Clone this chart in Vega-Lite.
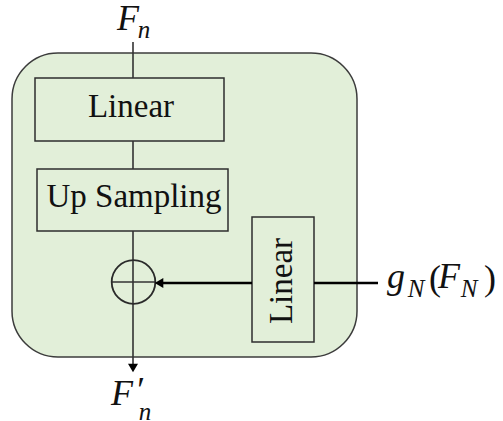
{
  "$schema": "https://vega.github.io/schema/vega-lite/v6.json",
  "width": 503,
  "height": 421,
  "padding": 0,
  "autosize": {"type": "none"},
  "background": "white",
  "config": {"view": {"stroke": null}},
  "datasets": {
    "frame": [{"part": "block", "x": 12, "x2": 357, "y": 53, "y2": 357}],
    "boxes": [
      {"name": "Linear", "x": 35, "x2": 224, "y": 78, "y2": 141},
      {"name": "Up Sampling", "x": 37, "x2": 228, "y": 169, "y2": 231},
      {"name": "Linear side", "x": 252, "x2": 314, "y": 217, "y2": 342}
    ],
    "links": [
      {"kind": "thin", "x": 133, "y": 42, "x2": 133, "y2": 78},
      {"kind": "thin", "x": 133, "y": 141, "x2": 133, "y2": 169},
      {"kind": "thin", "x": 133, "y": 231, "x2": 133, "y2": 366},
      {"kind": "thin", "x": 111.5, "y": 282, "x2": 155.5, "y2": 282},
      {"kind": "thick", "x": 160, "y": 283, "x2": 252, "y2": 283},
      {"kind": "thick", "x": 314, "y": 283, "x2": 378, "y2": 283}
    ],
    "heads": [
      {"shape": "triangle-down", "x": 133, "y": 368},
      {"shape": "triangle-left", "x": 159, "y": 283}
    ],
    "sum": [{"x": 133.5, "y": 282}],
    "labels": [
      {"text": "Linear", "x": 131, "y": 117, "dir": "h"},
      {"text": "Up Sampling", "x": 134, "y": 207, "dir": "h"},
      {"text": "Linear", "x": 292, "y": 281, "dir": "v"}
    ],
    "math": [
      {"t": "F", "x": 128, "y": 30, "level": "base"},
      {"t": "n", "x": 144, "y": 38, "level": "sub"},
      {"t": "F", "x": 122, "y": 405, "level": "base"},
      {"t": "′", "x": 139, "y": 402, "level": "base"},
      {"t": "n", "x": 145, "y": 420, "level": "sub"},
      {"t": "g", "x": 396, "y": 288, "level": "base"},
      {"t": "N", "x": 416, "y": 297, "level": "sub"},
      {"t": "(", "x": 435, "y": 290, "level": "paren"},
      {"t": "F", "x": 449, "y": 288, "level": "base"},
      {"t": "N", "x": 469, "y": 297, "level": "sub"},
      {"t": ")", "x": 490, "y": 290, "level": "paren"}
    ]
  },
  "encoding": {
    "x": {"field": "x", "type": "quantitative", "axis": null, "scale": {"domain": [0, 503], "nice": false, "zero": false}},
    "y": {"field": "y", "type": "quantitative", "axis": null, "scale": {"domain": [0, 421], "nice": false, "zero": false, "reverse": true}}
  },
  "layer": [
    {
      "data": {"name": "frame"},
      "mark": {"type": "rect", "cornerRadius": 46, "fill": "#e2efd9", "stroke": "#3c3c3c", "strokeWidth": 1.5},
      "encoding": {"x2": {"field": "x2"}, "y2": {"field": "y2"}}
    },
    {
      "data": {"name": "boxes"},
      "mark": {"type": "rect", "fill": "#e2efd9", "stroke": "#2e2e2e", "strokeWidth": 1.5},
      "encoding": {"x2": {"field": "x2"}, "y2": {"field": "y2"}}
    },
    {
      "data": {"name": "links"},
      "transform": [{"filter": "datum.kind === 'thin'"}],
      "mark": {"type": "rule", "color": "#333333", "strokeWidth": 1.6},
      "encoding": {"x2": {"field": "x2"}, "y2": {"field": "y2"}}
    },
    {
      "data": {"name": "links"},
      "transform": [{"filter": "datum.kind === 'thick'"}],
      "mark": {"type": "rule", "color": "#000000", "strokeWidth": 2.6},
      "encoding": {"x2": {"field": "x2"}, "y2": {"field": "y2"}}
    },
    {
      "data": {"name": "sum"},
      "mark": {"type": "point", "shape": "circle", "size": 1900, "filled": false, "stroke": "#2a2a2a", "strokeWidth": 1.8, "opacity": 1}
    },
    {
      "data": {"name": "heads"},
      "mark": {"type": "point", "filled": true, "size": 100, "color": "#000000", "opacity": 1},
      "encoding": {"shape": {"field": "shape", "type": "nominal", "scale": null, "legend": null}}
    },
    {
      "data": {"name": "labels"},
      "transform": [{"filter": "datum.dir === 'h'"}],
      "mark": {"type": "text", "font": "Liberation Serif", "fontSize": 33, "align": "center", "baseline": "alphabetic", "color": "#111111"},
      "encoding": {"text": {"field": "text"}}
    },
    {
      "data": {"name": "labels"},
      "transform": [{"filter": "datum.dir === 'v'"}],
      "mark": {"type": "text", "font": "Liberation Serif", "fontSize": 33, "angle": 270, "align": "center", "baseline": "alphabetic", "color": "#111111"},
      "encoding": {"text": {"field": "text"}}
    },
    {
      "data": {"name": "math"},
      "transform": [{"filter": "datum.level === 'base'"}],
      "mark": {"type": "text", "font": "Liberation Serif", "fontStyle": "italic", "fontSize": 36, "align": "center", "baseline": "alphabetic", "color": "#111111"},
      "encoding": {"text": {"field": "t"}}
    },
    {
      "data": {"name": "math"},
      "transform": [{"filter": "datum.level === 'sub'"}],
      "mark": {"type": "text", "font": "Liberation Serif", "fontStyle": "italic", "fontSize": 25, "align": "center", "baseline": "alphabetic", "color": "#111111"},
      "encoding": {"text": {"field": "t"}}
    },
    {
      "data": {"name": "math"},
      "transform": [{"filter": "datum.level === 'paren'"}],
      "mark": {"type": "text", "font": "Liberation Serif", "fontSize": 36, "align": "center", "baseline": "alphabetic", "color": "#111111"},
      "encoding": {"text": {"field": "t"}}
    }
  ]
}
